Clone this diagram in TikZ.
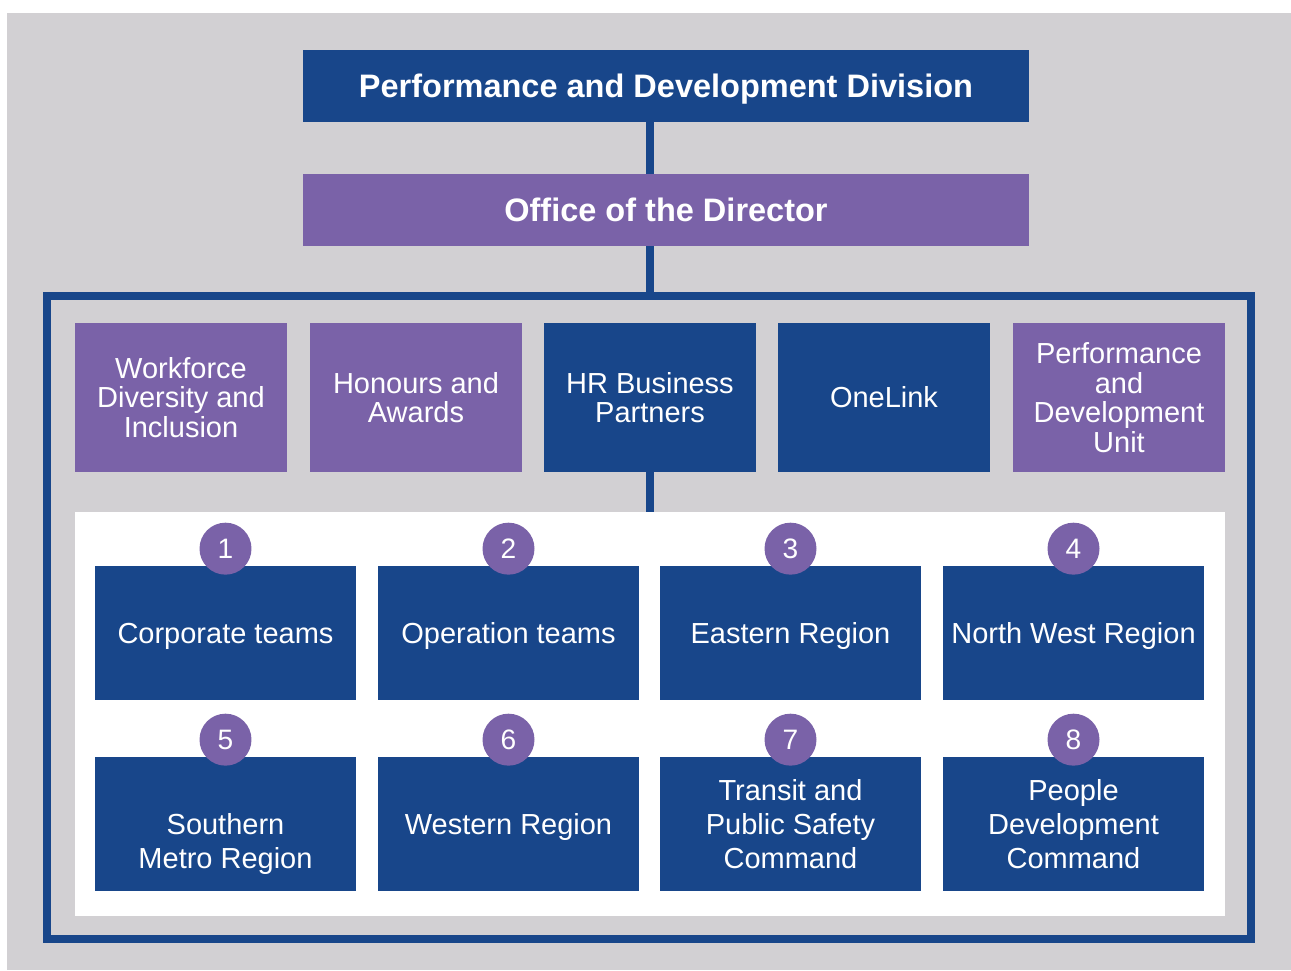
\documentclass[tikz,border=0pt]{standalone}
\usepackage{fontspec}
\setmainfont{Liberation Sans}
\usepackage{xcolor}
\usepackage{tikz}
\definecolor{DivBlue}{RGB}{24,70,138}
\definecolor{DivPurple}{RGB}{122,98,168}
\definecolor{PanelGrey}{RGB}{210,208,211}

\begin{document}
\begin{tikzpicture}[x=0.02cm,y=-0.02cm,
  unitbox/.style={fill=#1,text=white,inner sep=0pt,align=center,
    minimum width=4.24cm,minimum height=2.98cm,font=\fontsize{16.5}{16.8}\selectfont},
  teambox/.style={fill=DivBlue,text=white,inner sep=0pt,align=center,text depth=0pt,
    minimum width=5.22cm,minimum height=2.68cm,font=\fontsize{16.5}{19.6}\selectfont},
  numdot/.style={circle,fill=DivPurple,text=white,inner sep=0pt,minimum size=1.04cm,
    font=\fontsize{16}{16}\selectfont},
  headbox/.style={fill=#1,text=white,inner sep=0pt,text depth=0pt,minimum width=14.52cm,
    minimum height=1.44cm,font=\bfseries\fontsize{18.5}{20}\selectfont},
  link/.style={draw=DivBlue,line width=4.5pt}]
  \useasboundingbox (0,0) rectangle (1291,970);
  \fill[PanelGrey] (7,13) rectangle (1291,970);
  \node[headbox=DivBlue] (div) at (666,86) {Performance and Development Division};
  \node[headbox=DivPurple] (office) at (666,210) {Office of the Director};
  \node[draw=DivBlue,line width=4.5pt,minimum width=24.1cm,minimum height=12.86cm] (frame) at (649,617.5) {};
  % units
  \node[unitbox=DivPurple] (wdi) at (181,397.5) {Workforce\\Diversity and\\Inclusion};
  \node[unitbox=DivPurple] (honours) at (416,397.5) {Honours and\\Awards};
  \node[unitbox=DivBlue] (hrbp) at (650,397.5) {HR Business\\Partners};
  \node[unitbox=DivBlue] (onelink) at (884,397.5) {OneLink};
  \node[unitbox=DivPurple] (pdu) at (1119,397.5) {Performance\\and\\Development\\Unit};
  \node[fill=white,inner sep=0pt,minimum width=23cm,minimum height=8.08cm] (panel) at (650,714) {};
  \draw[link] (div.south -| hrbp) -- (office.north -| hrbp);
  \draw[link] (office.south -| hrbp) -- (frame.north -| hrbp);
  \draw[link] (hrbp) -- (panel);
  % teams
  \node[teambox] (corp) at (225.5,633) {Corporate teams};
  \node[teambox] (ops) at (508.5,633) {Operation teams};
  \node[teambox] (east) at (790.5,633) {Eastern Region};
  \node[teambox] (nw) at (1073.5,633) {North West Region};
  \node[teambox] (south) at (225.5,824) {\phantom{S}\\Southern\\Metro Region};
  \node[teambox] (west) at (508.5,824) {Western Region};
  \node[teambox] (transit) at (790.5,824) {Transit and\\Public Safety\\Command};
  \node[teambox] (people) at (1073.5,824) {People\\Development\\Command};
  \foreach \team/\num in {corp/1,ops/2,east/3,nw/4,south/5,west/6,transit/7,people/8}
    \node[numdot] (n\num) at ([yshift=0.34cm]\team.north) {\num};
\end{tikzpicture}
\end{document}
